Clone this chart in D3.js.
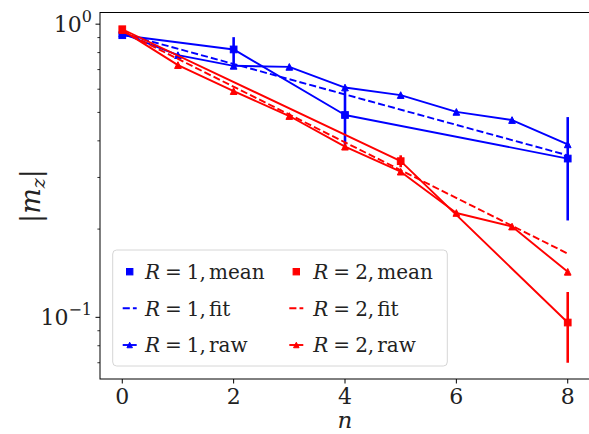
<!DOCTYPE html>
<html><head><meta charset="utf-8">
<script src="https://cdn.jsdelivr.net/npm/d3@7"></script>
<style>body{margin:0;background:#fff}svg{display:block}</style>
</head><body>
<svg id="c" width="589" height="434"></svg>
<script>
// ---- data ----
const nMeanR1 = [0, 2, 4, 8];
const meanR1  = [0.917, 0.820, 0.490, 0.348];
const errR1   = [0, 0.083, 0.105, 0.134];
const nMeanR2 = [0, 5, 8];
const meanR2  = [0.961, 0.341, 0.096];
const errR2   = [0, 0.016, 0.026];
const nRaw    = [0, 1, 2, 3, 4, 5, 6, 7, 8];
const rawR1   = [0.930, 0.784, 0.721, 0.715, 0.608, 0.573, 0.502, 0.471, 0.389];
const rawR2   = [0.954, 0.725, 0.591, 0.486, 0.382, 0.314, 0.227, 0.204, 0.143];
const nFit    = [0, 8];
const fitR1   = [0.929, 0.357];
const fitR2   = [0.947, 0.165];
const xTicks  = [0, 2, 4, 6, 8];
const yMajor  = [1, 0.1];
const yMajorBase = ["10", "10"];
const yMajorExp  = ["0", "\u22121"];
const yMinor  = [0.07, 0.08, 0.09, 0.2, 0.3, 0.4, 0.5, 0.6, 0.7, 0.8, 0.9];
const legendRows = ["mean", "fit", "raw"];
const legendR = ["1", "2"];

const FONT = "DejaVu Serif";
const svg = d3.select("#c");
const L = 100, R = 590, T = 12.5, B = 379;
const x = d3.scaleLinear().domain([-0.4, 8.4]).range([L, R]);
const y = d3.scaleLog().domain([0.06161, 1.096]).range([B, T]);

svg.append("rect").attr("width", 589).attr("height", 434).attr("fill", "#fff");

const BLUE = "#0000ff", RED = "#ff0000";
const LW = 1.9;
const MS = 7.7;

function tri(g, cx, cy, color, s) {
  const h = s / 2;
  g.append("path")
    .attr("d", `M${cx},${cy - h}L${cx - h},${cy + h}L${cx + h},${cy + h}Z`)
    .attr("fill", color).attr("stroke", color).attr("stroke-width", 1).attr("stroke-linejoin", "miter");
}
function sq(g, cx, cy, color, s) {
  g.append("rect").attr("x", cx - s / 2).attr("y", cy - s / 2).attr("width", s).attr("height", s)
    .attr("fill", color).attr("stroke", color).attr("stroke-width", 1);
}

const plot = svg.append("g");
const line = d3.line().x(d => x(d[0])).y(d => y(d[1]));

function drawSeries(nM, mean, err, fitV, raw, color) {
  plot.append("path").attr("d", line(nM.map((n, i) => [n, mean[i]])))
    .attr("fill", "none").attr("stroke", color).attr("stroke-width", LW).attr("stroke-linejoin", "round");
  nM.forEach((n, i) => {
    if (err[i] > 0) {
      plot.append("line").attr("x1", x(n)).attr("x2", x(n))
        .attr("y1", y(mean[i] + err[i])).attr("y2", y(mean[i] - err[i]))
        .attr("stroke", color).attr("stroke-width", 2.6);
    }
  });
  nM.forEach((n, i) => sq(plot, x(n), y(mean[i]), color, MS - 1));
  plot.append("path").attr("d", line(nFit.map((n, i) => [n, fitV[i]])))
    .attr("fill", "none").attr("stroke", color).attr("stroke-width", LW).attr("stroke-dasharray", "7.1,3.1");
  plot.append("path").attr("d", line(nRaw.map((n, i) => [n, raw[i]])))
    .attr("fill", "none").attr("stroke", color).attr("stroke-width", LW).attr("stroke-linejoin", "round");
  nRaw.forEach((n, i) => tri(plot, x(n), y(raw[i]), color, MS - 1));
}
drawSeries(nMeanR1, meanR1, errR1, fitR1, rawR1, BLUE);
drawSeries(nMeanR2, meanR2, errR2, fitR2, rawR2, RED);

// ---- axes ----
const ax = svg.append("g");
ax.append("rect").attr("x", L).attr("y", T).attr("width", R - L).attr("height", B - T)
  .attr("fill", "none").attr("stroke", "#000").attr("stroke-width", 1);
xTicks.forEach(t => {
  ax.append("line").attr("x1", x(t)).attr("x2", x(t)).attr("y1", B).attr("y2", B + 4.5)
    .attr("stroke", "#000").attr("stroke-width", 1);
  ax.append("text").attr("x", x(t)).attr("y", 404).attr("text-anchor", "middle")
    .attr("font-family", FONT).attr("font-size", 22).attr("fill", "#222").text(t);
});
yMajor.forEach((t, i) => {
  ax.append("line").attr("x1", L - 4.5).attr("x2", L).attr("y1", y(t)).attr("y2", y(t))
    .attr("stroke", "#000").attr("stroke-width", 1);
  const tx = ax.append("text").attr("x", 92).attr("y", y(t) + 8).attr("text-anchor", "end")
    .attr("font-family", FONT).attr("font-size", 22).attr("fill", "#222");
  tx.append("tspan").text(yMajorBase[i]);
  tx.append("tspan").attr("dy", -10).attr("font-size", 16).text(yMajorExp[i]);
});
yMinor.forEach(t => {
  ax.append("line").attr("x1", L - 2.6).attr("x2", L).attr("y1", y(t)).attr("y2", y(t))
    .attr("stroke", "#000").attr("stroke-width", 0.8);
});
ax.append("text").attr("x", 345).attr("y", 428).attr("text-anchor", "middle")
  .attr("font-family", FONT).attr("font-size", 23).attr("font-style", "italic").attr("fill", "#222").text("n");
const yl = ax.append("text").attr("transform", "translate(40,196) rotate(-90)").attr("text-anchor", "middle")
  .attr("font-family", FONT).attr("font-size", 27).attr("fill", "#222");
yl.append("tspan").text("|");
yl.append("tspan").attr("font-style", "italic").text("m");
yl.append("tspan").attr("font-style", "italic").attr("font-size", 19).attr("dy", 5).text("z");
yl.append("tspan").attr("dy", -5).text("|");

// ---- legend ----
const lg = svg.append("g");
lg.append("rect").attr("x", 112.7).attr("y", 250).attr("width", 334.6).attr("height", 116).attr("rx", 4)
  .attr("fill", "#fff").attr("fill-opacity", 0.8).attr("stroke", "#d6d6d6").attr("stroke-width", 1);
const rowY = [271.7, 308.3, 345];
const colHandle = [129.7, 296.3];
const colText = [145, 313.3];
const colors = [BLUE, RED];
legendR.forEach((r, c) => {
  legendRows.forEach((lab, k) => {
    const cy = rowY[k], hx = colHandle[c], col = colors[c];
    if (lab === "mean") sq(lg, hx, cy, col, 6.4);
    if (lab === "fit") lg.append("line").attr("x1", hx - 7).attr("x2", hx + 7).attr("y1", cy).attr("y2", cy)
      .attr("stroke", col).attr("stroke-width", LW).attr("stroke-dasharray", "7.1,3.1");
    if (lab === "raw") {
      lg.append("line").attr("x1", hx - 7).attr("x2", hx + 7).attr("y1", cy).attr("y2", cy)
        .attr("stroke", col).attr("stroke-width", LW);
      tri(lg, hx, cy, col, 5.5);
    }
    const t = lg.append("text").attr("x", colText[c]).attr("y", cy + 7.3)
      .attr("font-family", FONT).attr("font-size", 20).attr("fill", "#222");
    t.append("tspan").attr("font-style", "italic").text("R");
    t.append("tspan").attr("dx", 5).text("=");
    t.append("tspan").attr("dx", 5).text(r + ",");
    t.append("tspan").attr("dx", 3).text(lab);
  });
});
</script>
</body></html>
